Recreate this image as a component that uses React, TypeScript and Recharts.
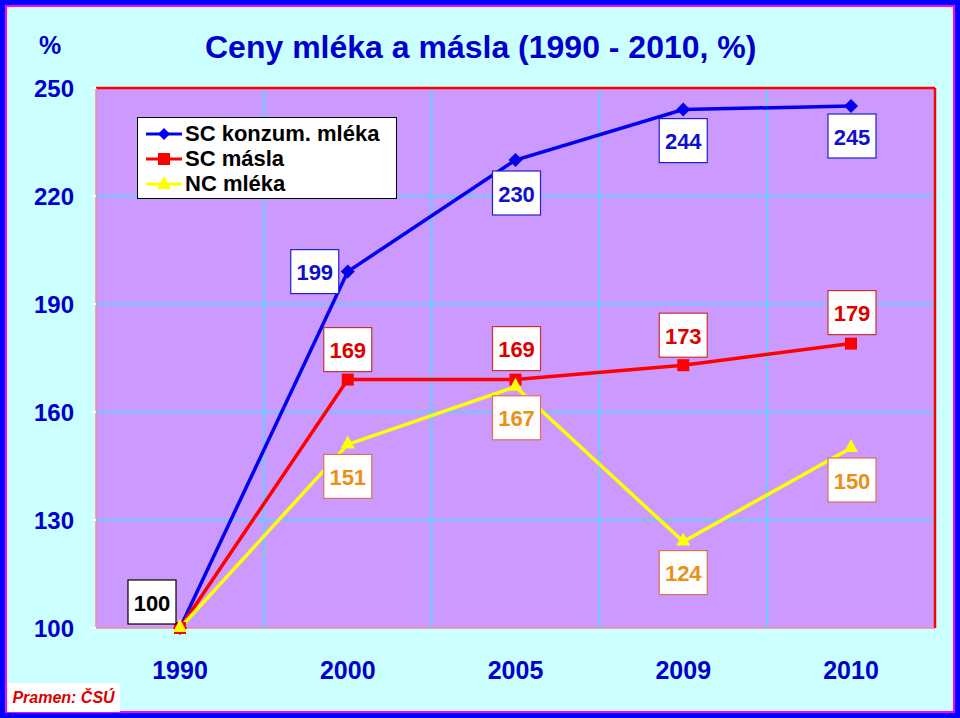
import { LineChart, Line, XAxis, YAxis, CartesianGrid, LabelList } from 'recharts';

const FONT = '"Liberation Sans", Arial, sans-serif';

const years = ['1990', '2000', '2005', '2009', '2010'];
const scKonzumMleka = [100, 199, 230, 244, 245];
const scMasla = [100, 169, 169, 173, 179];
const ncMleka = [100, 151, 167, 124, 150];
const yTicks = [100, 130, 160, 190, 220, 250];
const innerGridValues = [130, 160, 190, 220];

const data = years.map((year, i) => ({
  year,
  konzum: scKonzumMleka[i],
  masla: scMasla[i],
  nc: ncMleka[i],
}));

const BLUE = '#0000EE';
const RED = '#FF0000';
const YELLOW = '#FFFF00';
const AXIS_TEXT = '#0000CC';

// label box offsets from each point (null = no label)
type LabelPos = { dx: number; dy: number; text?: string; border?: string } | null;
const konzumLabels: LabelPos[] = [
  { dx: -28, dy: -26, text: '#000000', border: '#000000' },
  { dx: -33, dy: 0 },
  { dx: 1, dy: 33 },
  { dx: 0, dy: 31 },
  { dx: 1, dy: 30 },
];
const maslaLabels: LabelPos[] = [null, { dx: 0, dy: -30 }, { dx: 1, dy: -31 }, { dx: 0, dy: -30 }, { dx: 1, dy: -31 }];
const ncLabels: LabelPos[] = [null, { dx: 0, dy: 32 }, { dx: 1, dy: 31 }, { dx: 0, dy: 31 }, { dx: 1, dy: 32 }];

const boxLabel = (positions: LabelPos[], text: string, border: string) => (props: any) => {
  const { value, index } = props;
  const x = props.x ?? props.viewBox?.x;
  const y = props.y ?? props.viewBox?.y;
  const pos = positions[index];
  if (!pos || x == null || y == null) return null;
  const cx = x + pos.dx;
  const cy = y + pos.dy;
  return (
    <g>
      <rect x={cx - 24} y={cy - 22} width={48} height={44} fill="#FFFFFF" stroke={pos.border ?? border} strokeWidth={1.2} />
      <text
        x={cx}
        y={cy + 1}
        textAnchor="middle"
        dominantBaseline="central"
        fontFamily={FONT}
        fontWeight="bold"
        fontSize={22}
        fill={pos.text ?? text}
      >
        {value}
      </text>
    </g>
  );
};

const diamondDot = (props: any) => {
  const { cx, cy, index } = props;
  if (cx == null || cy == null) return <g key={index} />;
  return <path key={index} d={`M${cx},${cy - 7}L${cx + 7},${cy}L${cx},${cy + 7}L${cx - 7},${cy}Z`} fill={BLUE} />;
};

const squareDot = (props: any) => {
  const { cx, cy, index } = props;
  if (cx == null || cy == null) return <g key={index} />;
  return <rect key={index} x={cx - 6} y={cy - 6} width={12} height={12} fill={RED} />;
};

const triangleDot = (props: any) => {
  const { cx, cy, index } = props;
  if (cx == null || cy == null) return <g key={index} />;
  return <path key={index} d={`M${cx},${cy - 9}L${cx + 7},${cy + 4}L${cx - 7},${cy + 4}Z`} fill={YELLOW} />;
};

function LegendBox() {
  const rows = [
    { name: 'SC konzum. mléka', color: BLUE, marker: <path d="M18,2L24,8L18,14L12,8Z" fill={BLUE} /> },
    { name: 'SC másla', color: RED, marker: <rect x={12} y={2} width={12} height={12} fill={RED} /> },
    { name: 'NC mléka', color: YELLOW, marker: <path d="M18,0L25,13L11,13Z" fill={YELLOW} /> },
  ];
  return (
    <div
      style={{
        position: 'absolute',
        left: 137,
        top: 117,
        width: 258,
        height: 80,
        background: '#FFFFFF',
        border: '1.5px solid #000000',
        fontFamily: FONT,
      }}
    >
      {rows.map((r, i) => (
        <div key={r.name} style={{ display: 'flex', alignItems: 'center', height: 25, marginTop: i === 0 ? 3 : 0 }}>
          <svg width={36} height={16} style={{ marginLeft: 8, marginRight: 3 }}>
            <line x1={0} y1={8} x2={36} y2={8} stroke={r.color} strokeWidth={3} />
            {r.marker}
          </svg>
          <span style={{ fontSize: 22, fontWeight: 'bold', color: '#000000', lineHeight: '25px' }}>{r.name}</span>
        </div>
      ))}
    </div>
  );
}

export default function App() {
  return (
    <div
      style={{
        position: 'absolute',
        left: 0,
        top: 0,
        width: 960,
        height: 718,
        background: '#CCFFFF',
        boxShadow: 'inset 0 0 0 5px #0000FF, inset 0 0 0 7px #FF00FF',
        fontFamily: FONT,
        overflow: 'hidden',
      }}
    >
      <div
        style={{
          position: 'absolute',
          left: 205,
          top: 28,
          fontSize: 32,
          fontWeight: 'bold',
          color: AXIS_TEXT,
          whiteSpace: 'nowrap',
          lineHeight: '38px',
        }}
      >
        Ceny mléka a másla (1990 - 2010, %)
      </div>
      <div style={{ position: 'absolute', left: 39, top: 31, fontSize: 25, fontWeight: 'bold', color: AXIS_TEXT }}>%</div>

      <div style={{ position: 'absolute', left: 0, top: 0 }}>
        <LineChart width={960} height={718} data={data} margin={{ top: 86, right: 23, bottom: 0, left: 0 }}>
          <CartesianGrid
            stroke="#66CCFF"
            strokeWidth={2}
            fill="#CC99FF"
            fillOpacity={1}
            horizontalValues={innerGridValues}
            verticalCoordinatesGenerator={({ offset }: any) =>
              [1, 2, 3, 4].map((i) => offset.left + (i * offset.width) / years.length)
            }
          />
          <XAxis
            dataKey="year"
            height={90}
            padding={{ left: 84, right: 84 }}
            tickSize={0}
            tickMargin={33}
            tickLine={false}
            axisLine={{ stroke: '#F09090', strokeWidth: 1.5 }}
            tick={{ fill: AXIS_TEXT, fontSize: 25, fontWeight: 'bold', fontFamily: FONT }}
            interval={0}
          />
          <XAxis
            xAxisId="top"
            orientation="top"
            dataKey="year"
            height={2}
            tick={false}
            tickLine={false}
            axisLine={{ stroke: RED, strokeWidth: 2.5 }}
          />
          <YAxis
            domain={[100, 250]}
            ticks={yTicks}
            width={96}
            tickSize={6}
            tickMargin={16}
            tickLine={{ stroke: '#FFFFFF', strokeWidth: 2 }}
            axisLine={{ stroke: '#F09090', strokeWidth: 1.5 }}
            tick={{ fill: AXIS_TEXT, fontSize: 24, fontWeight: 'bold', fontFamily: FONT }}
            interval={0}
          />
          <YAxis
            yAxisId="right"
            orientation="right"
            domain={[100, 250]}
            width={2}
            tick={false}
            tickLine={false}
            axisLine={{ stroke: RED, strokeWidth: 2.5 }}
          />
          <Line dataKey="konzum" stroke={BLUE} strokeWidth={3.5} dot={diamondDot} activeDot={false} isAnimationActive={false}>
            <LabelList dataKey="konzum" content={boxLabel(konzumLabels, '#1010CC', '#2020CC')} />
          </Line>
          <Line dataKey="masla" stroke={RED} strokeWidth={3.5} dot={squareDot} activeDot={false} isAnimationActive={false}>
            <LabelList dataKey="masla" content={boxLabel(maslaLabels, '#DD0000', '#CC3030')} />
          </Line>
          <Line dataKey="nc" stroke={YELLOW} strokeWidth={3.5} dot={triangleDot} activeDot={false} isAnimationActive={false}>
            <LabelList dataKey="nc" content={boxLabel(ncLabels, '#E8901A', '#E07050')} />
          </Line>
        </LineChart>
      </div>

      <LegendBox />

      <div
        style={{
          position: 'absolute',
          left: 7,
          top: 683,
          width: 113,
          height: 29,
          background: '#FFFFFF',
          color: '#DD0000',
          fontSize: 16,
          fontWeight: 'bold',
          fontStyle: 'italic',
          lineHeight: '29px',
          textAlign: 'center',
        }}
      >
        Pramen: ČSÚ
      </div>
    </div>
  );
}
